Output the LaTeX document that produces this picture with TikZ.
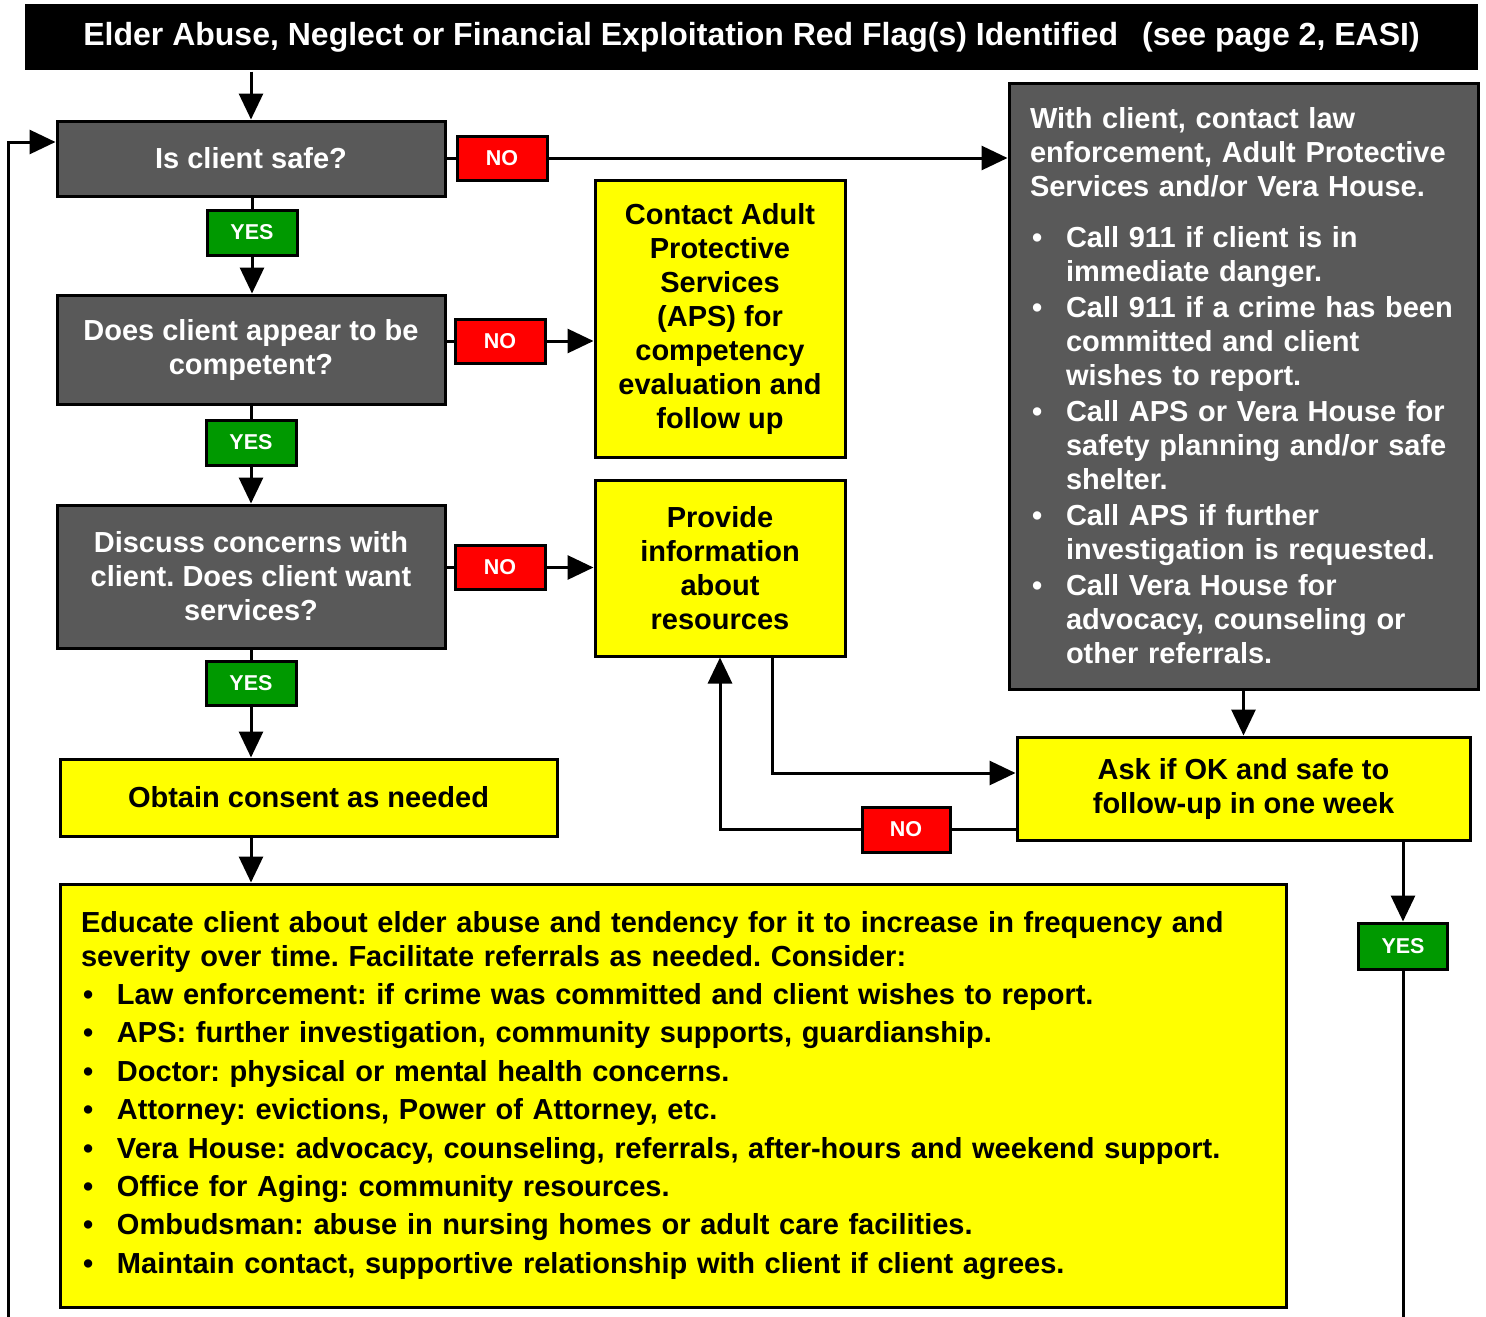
\documentclass[tikz,border=0pt]{standalone}
\usepackage{fontspec}
\setmainfont{Liberation Sans}
\usetikzlibrary{arrows.meta}
\definecolor{boxgray}{HTML}{595959}
\definecolor{nored}{HTML}{FF0000}
\definecolor{yesgreen}{HTML}{009900}
\definecolor{noteyellow}{HTML}{FFFF00}
\frenchspacing
\tikzstyle{every node}=[font=\fontsize{29}{34}\selectfont\bfseries, inner sep=0pt, line width=3pt]
\tikzstyle{question}=[draw=black, fill=boxgray, text=white, align=center, minimum width=388pt]
\tikzstyle{action}=[draw=black, fill=noteyellow, align=center]
\tikzstyle{nobox}=[draw=black, fill=nored, text=white, minimum width=90pt, minimum height=44pt, font=\fontsize{21.5}{26}\selectfont\bfseries]
\tikzstyle{yesbox}=[nobox, fill=yesgreen]
\tikzstyle{arr}=[-{Triangle[length=26pt,width=24pt]}]
\newcommand{\bul}{\makebox[36pt][l]{\hspace{2pt}•}}
\newcommand{\ind}{\makebox[36pt]{}}

\begin{document}
\begin{tikzpicture}[x=1pt, y=-1pt, line width=3pt]
\useasboundingbox (0,0) rectangle (1486,1317);
% Header
    \node[fill=black, text=white, minimum width=1453pt, minimum height=66pt,
          font=\fontsize{32}{38}\selectfont\bfseries] (title) at (751.5,37)
        {Elder Abuse, Neglect or Financial Exploitation Red Flag(s) Identified\hspace{24pt}(see page 2, EASI)};
% Questions down the left
    \node[question, minimum height=75pt] (safe) at (251,158.5) {Is client safe?};
    \node[question, minimum height=109pt] (competent) at (251,349.5) {Does client appear to be\\competent?};
    \node[question, minimum height=143pt] (discuss) at (251,576.5) {Discuss concerns with\\client. Does client want\\services?};
    \node[action, minimum width=497pt, minimum height=77pt] (consent) at (308.5,797.5) {Obtain consent as needed};
% Actions
    \node[action, minimum width=250pt, minimum height=277pt] (contact) at (720,318.5)
        {Contact Adult\\Protective\\Services\\(APS) for\\competency\\evaluation and\\follow up};
    \node[action, minimum width=250pt, minimum height=176pt] (provide) at (720,568)
        {Provide\\information\\about\\resources};
    \node[question, align=left, text width=427pt, inner xsep=21pt, minimum height=606pt] (lawbox) at (1243.5,386)
        {With client, contact law\\
         enforcement, Adult Protective\\
         Services and/or Vera House.\\[17pt]
         \bul Call 911 if client is in\\
         \ind immediate danger.\\[2pt]
         \bul Call 911 if a crime has been\\
         \ind committed and client\\
         \ind wishes to report.\\[2pt]
         \bul Call APS or Vera House for\\
         \ind safety planning and/or safe\\
         \ind shelter.\\[2pt]
         \bul Call APS if further\\
         \ind investigation is requested.\\[2pt]
         \bul Call Vera House for\\
         \ind advocacy, counseling or\\
         \ind other referrals.};
    \node[action, minimum width=453pt, minimum height=103pt] (followup) at (1243.5,788.5)
        {Ask if OK and safe to\\follow-up in one week};
    \node[action, align=left, text width=1184pt, inner xsep=21pt, minimum height=423pt] (educate) at (673,1095.5)
        {Educate client about elder abuse and tendency for it to increase in frequency and\\
         severity over time. Facilitate referrals as needed. Consider:\\[4pt]
         \bul Law enforcement: if crime was committed and client wishes to report.\\[4.4pt]
         \bul APS: further investigation, community supports, guardianship.\\[4.4pt]
         \bul Doctor: physical or mental health concerns.\\[4.4pt]
         \bul Attorney: evictions, Power of Attorney, etc.\\[4.4pt]
         \bul Vera House: advocacy, counseling, referrals, after-hours and weekend support.\\[4.4pt]
         \bul Office for Aging: community resources.\\[4.4pt]
         \bul Ombudsman: abuse in nursing homes or adult care facilities.\\[4.4pt]
         \bul Maintain contact, supportive relationship with client if client agrees.};
% Yes / No tags
    \node[nobox] (no1) at (502,158) {NO};
    \node[nobox] (no2) at (500,341) {NO};
    \node[nobox] (no3) at (500,567.5) {NO};
    \node[nobox, minimum width=88pt, minimum height=45pt] (no4) at (906,829.5) {NO};
    \node[yesbox, minimum height=45pt] (yes1) at (252,232.5) {YES};
    \node[yesbox, minimum height=45pt] (yes2) at (251,442.5) {YES};
    \node[yesbox] (yes3) at (251,683) {YES};
    \node[yesbox, minimum width=89pt, minimum height=46pt] (yes4) at (1403,946) {YES};
    \coordinate (yesend) at (1403,1317);
    \coordinate (loopend) at (8,1317);
% Connectors
    \draw[arr] (title.south -| safe) -- (safe.north);
    \draw (safe.east |- no1) -- (no1.west);
    \draw[arr] (no1.east) -- (no1 -| lawbox.west);
    \draw (safe.south -| yes1) -- (yes1.north);
    \draw[arr] (yes1.south) -- (yes1.south |- competent.north);
    \draw (competent.east |- no2) -- (no2.west);
    \draw[arr] (no2.east) -- (no2 -| contact.west);
    \draw (competent.south -| yes2) -- (yes2.north);
    \draw[arr] (yes2.south) -- (discuss.north);
    \draw (discuss.east |- no3) -- (no3.west);
    \draw[arr] (no3.east) -- (no3 -| provide.west);
    \draw (discuss.south -| yes3) -- (yes3.north);
    \draw[arr] (yes3.south) -- (yes3.south |- consent.north);
    \draw[arr] (consent.south -| safe) -- (educate.north -| safe);
    \draw[arr] (lawbox.south) -- (followup.north);
    \draw[arr] ([xshift=52pt]provide.south) |- ([yshift=15.5pt]followup.west);
    \draw (followup.west |- no4) -- (no4.east);
    \draw[arr] (no4.west) -| (provide.south);
    \draw[arr] (followup.south -| yes4) -- (yes4.north);
    \draw (yes4.south) -- (yesend);
    \draw[arr] (loopend) |- ([yshift=16.5pt]safe.west);
\end{tikzpicture}
\end{document}
